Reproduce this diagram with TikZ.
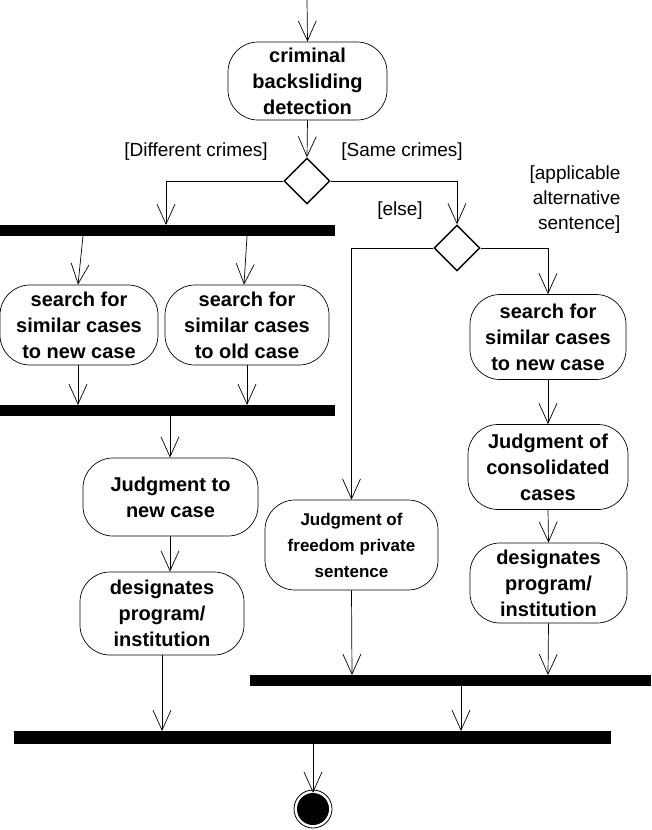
\documentclass[tikz,border=0pt]{standalone}
\usepackage{fontspec}
\setmainfont{Liberation Sans}
\usetikzlibrary{arrows.meta,shapes.geometric}
\begin{document}
\begin{tikzpicture}[x=1pt,y=-1pt,
  act/.style={draw,rounded corners=30pt,align=center,font=\bfseries\fontsize{20}{26}\selectfont,inner sep=0pt,line width=0.7pt},
  dec/.style={draw,diamond,minimum size=46,inner sep=0pt,line width=1.4pt},
  bar/.style={fill=black,inner sep=0pt},
  flow/.style={-{Straight Barb[length=20pt,width=18pt]},line width=0.7pt},
  lbl/.style={font=\fontsize{19}{25}\selectfont,align=center}]
\useasboundingbox (0,0) rectangle (651,830);
\coordinate (start) at (307,0);
\node[act,minimum width=159,minimum height=78] (crim) at (307.5,81) {criminal\\backsliding\\detection};
\node[dec] (d1) at (307,181) {};
\node[bar,minimum width=335,minimum height=11] (b1) at (167.5,230.5) {};
\node[dec] (d2) at (457,248) {};
\node[act,minimum width=158,minimum height=80] (s1) at (79,325) {search for\\similar cases\\to new case};
\node[act,minimum width=164,minimum height=80] (s2) at (247,325) {search for\\similar cases\\to old case};
\node[bar,minimum width=335,minimum height=11] (b2) at (167.5,410.5) {};
\node[act,minimum width=175,minimum height=78] (j1) at (170.5,497) {Judgment to\\new case};
\node[act,minimum width=164,minimum height=83] (ds1) at (162,613.5) {designates\\program/\\institution};
\node[act,minimum width=156,minimum height=85] (s3) at (548,337) {search for\\similar cases\\to new case};
\node[act,minimum width=160,minimum height=85] (j3) at (548,467) {Judgment of\\consolidated\\cases};
\node[act,minimum width=157,minimum height=80] (ds3) at (548.5,583) {designates\\program/\\institution};
\node[act,minimum width=173,minimum height=90,font=\bfseries\fontsize{17}{26}\selectfont] (jf) at (351.5,545) {Judgment of\\freedom private\\sentence};
\node[bar,minimum width=401,minimum height=11] (b3) at (450.5,680.5) {};
\node[bar,minimum width=597,minimum height=13] (b4) at (312.5,737.5) {};
\node[circle,fill=black,minimum size=32,inner sep=0pt] (fin) at (313,809) {};
\draw[line width=0.8pt] (fin) circle (19);
\node[lbl] (lD) at (196,152) {[Different crimes]};
\node[lbl] (lS) at (402,152) {[Same crimes]};
\node[lbl] (lE) at (400,211) {[else]};
\node[lbl,align=right,anchor=east] (lA) at (624,200) {[applicable\\alternative\\sentence]};
\draw[flow] (start) -- (crim.north);
\draw[flow] (crim.south) -- (d1.north);
\draw[flow] (d1.west) -| (166,225);
\draw[flow] (d1.east) -| (d2.north);
\draw[flow] (83,236) -- (s1.north -| 78,0);
\draw[flow] (247,236) -- (s2.north -| 244,0);
\draw[flow] (s1.south -| 78,0) -- (78,405);
\draw[flow] (s2.south) -- (247,405);
\draw[flow] (170,416) -- (j1.north -| 170,0);
\draw[flow] (j1.south -| 170,0) -- (ds1.north -| 170,0);
\draw[flow] (ds1.south) -- (162,731);
\draw[flow] (d2.west) -| (jf.north);
\draw[flow] (d2.east) -| (s3.north);
\draw[flow] (s3.south) -- (j3.north);
\draw[flow] (j3.south) -- (ds3.north);
\draw[flow] (jf.south) -- (352,675);
\draw[flow] (ds3.south) -- (548,675);
\draw[flow] (461,686) -- (461,731);
\draw[flow] (313,744) -- (fin.north);
\end{tikzpicture}
\end{document}
